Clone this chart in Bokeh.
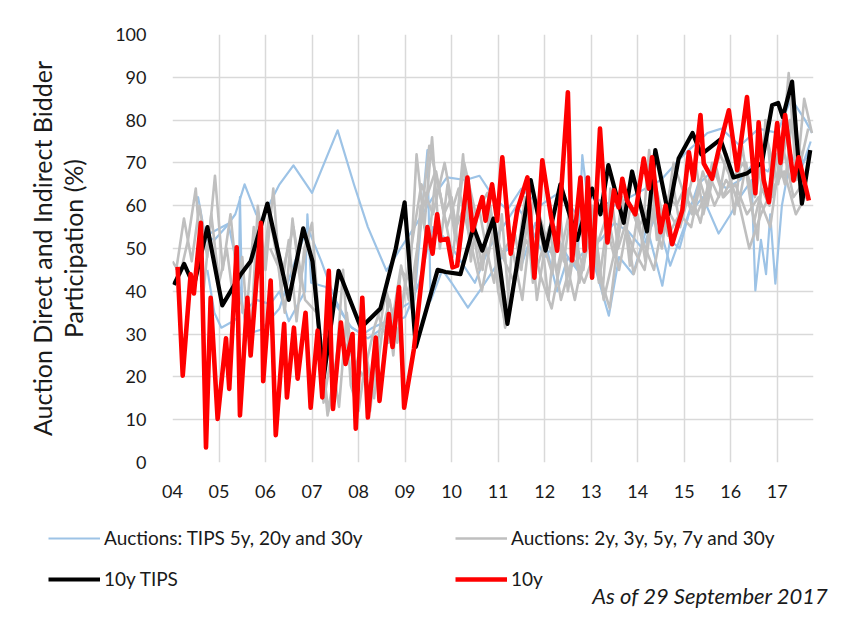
import numpy as np
from bokeh.plotting import figure
from bokeh.layouts import column
from bokeh.models import Legend, LegendItem, Label, FixedTicker, Range1d
from bokeh.embed import file_html
from bokeh.resources import INLINE

# ---------------- data ----------------
YEAR_TICKS = list(range(2004, 2018))
YEAR_LABELS = ["04", "05", "06", "07", "08", "09", "10", "11", "12", "13", "14", "15", "16", "17"]
Y_TICKS = list(range(0, 101, 10))

# 10y TIPS auctions
tips10_x = [2004.03, 2004.25, 2004.46, 2004.75, 2005.07, 2005.47, 2005.68, 2006.04, 2006.5, 2006.81,
            2007.01, 2007.25, 2007.57, 2008.05, 2008.47, 2008.8, 2008.99, 2009.23, 2009.7, 2009.87,
            2010.19, 2010.47, 2010.66, 2010.9, 2011.2, 2011.7, 2012.02, 2012.34, 2012.7, 2013.02,
            2013.2, 2013.37, 2013.7, 2013.88, 2014.2, 2014.38, 2014.66, 2014.88, 2015.18, 2015.37,
            2015.78, 2016.06, 2016.34, 2016.67, 2016.89, 2017.02, 2017.12, 2017.32, 2017.53, 2017.71]
tips10_y = [41.5, 46.4, 41.3, 55.0, 36.7, 44.0, 47.0, 60.5, 38.0, 54.7,
            47.0, 19.8, 44.8, 31.5, 36.0, 50.0, 60.8, 27.0, 45.0, 44.5,
            44.0, 55.0, 49.5, 57.0, 32.4, 66.0, 49.5, 65.0, 52.0, 64.0,
            58.0, 69.5, 56.0, 68.0, 54.0, 73.0, 58.0, 71.0, 77.0, 72.0,
            75.5, 66.6, 67.5, 70.0, 83.5, 84.0, 80.7, 89.0, 60.5, 73.0]

# 10y nominal auctions
n10_x = [2004.11, 2004.22, 2004.39, 2004.46, 2004.61, 2004.72, 2004.82, 2004.97, 2005.15, 2005.22,
         2005.38, 2005.45, 2005.61, 2005.68, 2005.9, 2005.95, 2006.11, 2006.22, 2006.4, 2006.46,
         2006.61, 2006.69, 2006.86, 2006.97, 2007.12, 2007.22, 2007.36, 2007.45, 2007.62, 2007.72,
         2007.87, 2007.94, 2008.08, 2008.2, 2008.37, 2008.45, 2008.65, 2008.73, 2008.87, 2008.98,
         2009.19, 2009.48, 2009.59, 2009.69, 2009.76, 2009.91, 2010.02, 2010.12, 2010.34, 2010.45,
         2010.66, 2010.73, 2010.87, 2010.98, 2011.09, 2011.27, 2011.41, 2011.63, 2011.78, 2011.95,
         2012.13, 2012.27, 2012.5, 2012.59, 2012.77, 2012.86, 2012.93, 2013.02, 2013.19, 2013.35,
         2013.49, 2013.59, 2013.67, 2013.77, 2013.95, 2014.13, 2014.24, 2014.31, 2014.49, 2014.6,
         2014.74, 2014.96, 2015.1, 2015.2, 2015.35, 2015.42, 2015.6, 2015.74, 2015.96, 2016.14,
         2016.35, 2016.53, 2016.6, 2016.71, 2016.82, 2017.0, 2017.07, 2017.17, 2017.35, 2017.46,
         2017.68]
n10_y = [45.7, 20.3, 44.0, 39.5, 56.0, 3.5, 38.5, 10.2, 29.0, 17.2,
         50.3, 11.0, 38.5, 25.0, 56.0, 19.0, 42.5, 6.4, 32.4, 15.2,
         31.5, 19.6, 35.0, 12.8, 30.8, 15.2, 44.8, 12.5, 32.7, 23.0,
         30.0, 7.9, 38.5, 10.5, 29.2, 14.4, 34.7, 27.0, 41.0, 12.8,
         26.5, 55.0, 48.8, 58.0, 51.9, 52.3, 45.6, 46.0, 66.6, 54.2,
         62.0, 56.5, 65.0, 56.5, 71.3, 48.8, 58.9, 66.6, 43.2, 70.6,
         58.0, 49.5, 86.5, 47.2, 66.6, 49.5, 66.6, 43.2, 78.0, 51.4,
         63.6, 59.6, 66.3, 61.2, 58.0, 71.0, 64.0, 71.3, 53.8, 60.0,
         51.0, 58.9, 72.5, 66.0, 81.2, 69.9, 66.3, 73.0, 82.3, 68.3,
         85.4, 62.9, 79.5, 66.0, 60.8, 79.3, 70.0, 81.2, 65.9, 71.3,
         61.2]

# TIPS 5y / 20y / 30y auctions
tips_a_x = [2004.45, 2004.55, 2004.7, 2004.9, 2005.15, 2005.35, 2005.55, 2005.8, 2005.9, 2006.3,
            2006.6, 2007.0, 2007.55, 2007.9, 2008.2, 2008.6, 2008.9, 2009.2, 2009.6, 2009.9,
            2010.3, 2010.6, 2010.9, 2011.2, 2011.5, 2011.9, 2012.3, 2012.7, 2013.0, 2013.5,
            2014.0, 2014.5, 2015.0, 2015.5, 2015.8, 2016.2, 2016.6, 2017.0, 2017.3, 2017.6,
            2017.75]
tips_a_y = [61.0, 62.0, 53.0, 52.0, 55.0, 58.0, 65.0, 58.0, 56.5, 65.0,
            69.4, 63.0, 77.6, 65.0, 55.0, 44.8, 50.0, 55.0, 62.0, 66.6,
            66.0, 67.0, 62.0, 59.0, 64.0, 60.0, 63.0, 58.0, 62.0, 60.0,
            63.0, 66.0, 72.0, 77.0, 78.0, 74.0, 78.0, 77.0, 85.0, 80.0,
            77.0]

tips_b_x = [2004.75, 2004.9, 2005.05, 2005.3, 2005.42, 2005.45, 2005.5, 2005.8, 2006.1, 2006.3,
            2006.5, 2006.85, 2006.9, 2006.98, 2007.3, 2007.5, 2007.85, 2008.1, 2008.3, 2008.6,
            2008.9, 2009.2, 2009.48, 2009.55, 2009.8, 2010.0, 2010.35, 2010.66, 2010.9, 2011.2,
            2011.5, 2011.8, 2012.0, 2012.27, 2012.5, 2012.7, 2012.81, 2013.1, 2013.38, 2013.6,
            2013.9, 2014.2, 2014.53, 2014.7, 2014.9, 2015.1, 2015.4, 2015.74, 2016.0, 2016.2,
            2016.45, 2016.53, 2016.65, 2016.76, 2016.85, 2016.96, 2017.1, 2017.3, 2017.5, 2017.72]
tips_b_y = [45.0, 35.0, 31.5, 33.0, 34.0, 62.0, 35.0, 38.0, 37.0, 40.0,
            33.0, 40.0, 58.0, 42.0, 41.0, 37.0, 31.5, 30.0, 31.5, 33.0,
            36.0, 38.0, 73.0, 37.8, 45.0, 42.0, 36.2, 41.0, 45.0, 50.0,
            46.0, 56.0, 52.0, 40.0, 48.0, 45.0, 71.8, 45.0, 34.3, 48.0,
            44.0, 55.0, 41.3, 52.0, 50.0, 58.0, 62.0, 53.5, 58.0, 62.0,
            66.0, 40.2, 52.0, 44.0, 58.0, 41.8, 60.0, 72.0, 68.0, 75.0]

tips_c_x = [2004.55, 2004.8, 2005.2, 2005.35, 2005.6, 2005.9, 2006.3, 2006.6, 2006.9, 2007.2,
            2007.5, 2007.8, 2008.2, 2008.6, 2009.0, 2009.3, 2009.6, 2009.9, 2010.2, 2010.5,
            2010.8, 2011.1, 2011.4, 2011.7, 2012.0, 2012.3, 2012.6, 2012.9, 2013.2, 2013.5,
            2013.8, 2014.1, 2014.4, 2014.7, 2015.0, 2015.3, 2015.6, 2015.9, 2016.2, 2016.5,
            2016.8, 2017.0, 2017.3, 2017.55, 2017.72]
tips_c_y = [48.0, 53.5, 55.8, 48.0, 30.0, 31.0, 36.0, 46.0, 55.0, 47.0,
            38.0, 32.0, 29.0, 32.0, 34.0, 42.0, 55.0, 52.0, 47.0, 42.0,
            50.0, 55.0, 60.0, 55.0, 48.0, 52.0, 46.0, 50.0, 52.0, 56.0,
            54.0, 50.0, 58.0, 46.0, 55.0, 65.0, 68.0, 64.0, 66.0, 70.0,
            68.0, 72.0, 78.0, 70.0, 73.0]

# Nominal 2y, 3y, 5y, 7y and 30y auctions (regularly spaced auction dates)
g2_start, g2_step = 2004.0, 1 / 6
g2_y = [47, 44, 52, 64, 40, 58,
        42, 50, 36, 48, 25, 60,
        45, 64, 40, 52, 33, 50,
        56, 30, 11, 20, 45, 18,
        12, 25, 15, 30, 38, 28,
        42, 35, 60, 50, 68, 58,
        62, 48, 66, 55, 45, 60,
        40, 32, 55, 45, 60, 38,
        50, 44, 58, 40, 52, 45,
        60, 42, 55, 48, 62, 46,
        58, 47, 66, 55, 62, 60,
        64, 58, 66, 60, 70, 62,
        66, 60, 70, 56, 64, 60,
        72, 65, 82, 70, 78]

g5_start, g5_step = 2004.08, 1 / 6
g5_y = [45, 57, 47, 60, 48, 67,
        45, 58, 40, 33, 55, 42,
        58, 48, 35, 57, 42, 53,
        40, 14, 25, 13, 35, 20,
        30, 12, 28, 40, 25, 46,
        38, 72, 55, 76, 50, 65,
        52, 72, 47, 60, 50, 42,
        58, 35, 48, 62, 42, 55,
        38, 55, 47, 60, 42, 50,
        55, 40, 64, 50, 56, 44,
        50, 73, 52, 58, 66, 55,
        62, 70, 58, 66, 62, 72,
        58, 74, 62, 52, 80, 62,
        70, 91, 66, 85, 77]

g30_start, g30_step = 2006.1, 0.25
g30_y = [50, 44, 55, 38, 35, 12, 30, 25, 20, 32, 40, 30,
         48, 65, 58, 70, 55, 62, 45, 58, 48, 42, 52, 46,
         55, 38, 48, 42, 50, 58, 45, 60, 52, 45, 60, 55,
         64, 56, 70, 62, 65, 58, 62, 55, 75, 62, 66]

g3_start, g3_step = 2008.4, 0.25
g3_y = [35, 28, 45, 42, 60, 68, 55, 64, 52, 40, 55, 31.5,
        45, 57, 44, 36, 50, 38, 52, 45, 36, 58, 50, 45,
        64, 53, 58, 55, 68, 60, 66, 62, 50, 58, 64, 68,
        58, 63]

g7_start, g7_step = 2009.27, 0.25
g7_y = [50, 74, 62, 48, 70, 58, 63, 48, 52, 38, 62, 53,
        45, 58, 44, 60, 38, 50, 62, 55, 60, 50, 70, 62,
        58, 64, 72, 66, 70, 62, 76, 65, 80, 72]

LEGEND_LABELS = ["Auctions: TIPS 5y, 20y and 30y", "Auctions: 2y, 3y, 5y, 7y and 30y",
                 "10y TIPS", "10y"]
NOTE = "As of 29 September 2017"

# ---------------- styles ----------------
FONT = "Lato"
TEXT = "#1a1a1a"
GRID = "#d9d9d9"
BLUE = "#9dc3e6"
GRAY = "#bfbfbf"
BLACK = "#000000"
RED = "#ff0000"
STYLES = [(BLUE, 2.2), (GRAY, 2.6), (BLACK, 4.2), (RED, 4.6)]

# ---------------- main chart ----------------
p = figure(width=844, height=508, output_backend="svg", toolbar_location=None,
           x_range=Range1d(2004, 2017.78), y_range=Range1d(0, 100),
           min_border_left=172, min_border_right=31, min_border_top=34, min_border_bottom=46)
p.outline_line_color = None
p.frame_align = False

p.xaxis.ticker = FixedTicker(ticks=YEAR_TICKS)
p.xaxis.major_label_overrides = {t: l for t, l in zip(YEAR_TICKS, YEAR_LABELS)}
p.yaxis.ticker = FixedTicker(ticks=Y_TICKS)
for ax in (p.xaxis, p.yaxis):
    ax.axis_line_color = None
    ax.major_tick_line_color = None
    ax.minor_tick_line_color = None
    ax.major_label_text_font = FONT
    ax.major_label_text_font_size = "18px"
    ax.major_label_text_color = TEXT
p.xaxis.major_label_standoff = 16
p.yaxis.major_label_standoff = 20
p.yaxis.axis_label = "Auction Direct and Indirect Bidder\nParticipation (%)"
p.yaxis.axis_label_text_font = FONT
p.yaxis.axis_label_text_font_size = "25px"
p.yaxis.axis_label_text_font_style = "normal"
p.yaxis.axis_label_text_color = TEXT
p.yaxis.axis_label_text_line_height = 1.05
p.yaxis.axis_label_standoff = 24

p.xgrid.ticker = FixedTicker(ticks=YEAR_TICKS)
p.ygrid.ticker = FixedTicker(ticks=Y_TICKS)
for g in (p.xgrid, p.ygrid):
    g.grid_line_color = GRID
    g.grid_line_width = 1.5

for xs, ys in ((tips_a_x, tips_a_y), (tips_b_x, tips_b_y), (tips_c_x, tips_c_y)):
    p.line(xs, ys, line_color=BLUE, line_width=STYLES[0][1], line_join="round")

for start, step, ys in ((g2_start, g2_step, g2_y), (g5_start, g5_step, g5_y),
                        (g30_start, g30_step, g30_y), (g3_start, g3_step, g3_y),
                        (g7_start, g7_step, g7_y)):
    xs = start + step * np.arange(len(ys))
    p.line(xs, ys, line_color=GRAY, line_width=STYLES[1][1], line_join="round")

p.line(tips10_x, tips10_y, line_color=BLACK, line_width=STYLES[2][1], line_join="round")
p.line(n10_x, n10_y, line_color=RED, line_width=STYLES[3][1], line_join="round")

# ---------------- legend strip below ----------------
q = figure(width=844, height=111, output_backend="svg", toolbar_location=None,
           x_range=Range1d(0, 844), y_range=Range1d(0, 111),
           min_border=0, x_axis_type=None, y_axis_type=None)
q.outline_line_color = None
q.frame_align = False
q.xgrid.visible = False
q.ygrid.visible = False

items = []
for lab, (col, w) in zip(LEGEND_LABELS, STYLES):
    r = q.line([np.nan], [np.nan], line_color=col, line_width=w)
    items.append(LegendItem(label=lab, renderers=[r]))

legend = Legend(items=items, orientation="horizontal", ncols=2, location=(48, 29))
legend.glyph_width = 52
legend.glyph_height = 20
legend.label_standoff = 4
legend.label_width = 333
legend.label_height = 20
legend.spacing = 18
legend.padding = 0
legend.margin = 0
legend.label_text_font = FONT
legend.label_text_font_size = "19px"
legend.label_text_color = TEXT
legend.background_fill_alpha = 0
legend.border_line_alpha = 0
q.add_layout(legend, "center")

note = Label(x=828, y=24, text=NOTE, text_align="right", text_baseline="middle",
             text_font=FONT, text_font_size="22px", text_font_style="italic",
             text_color=TEXT)
q.add_layout(note)

layout = column(p, q, spacing=0)
open("out.html", "w").write(file_html(layout, INLINE))
